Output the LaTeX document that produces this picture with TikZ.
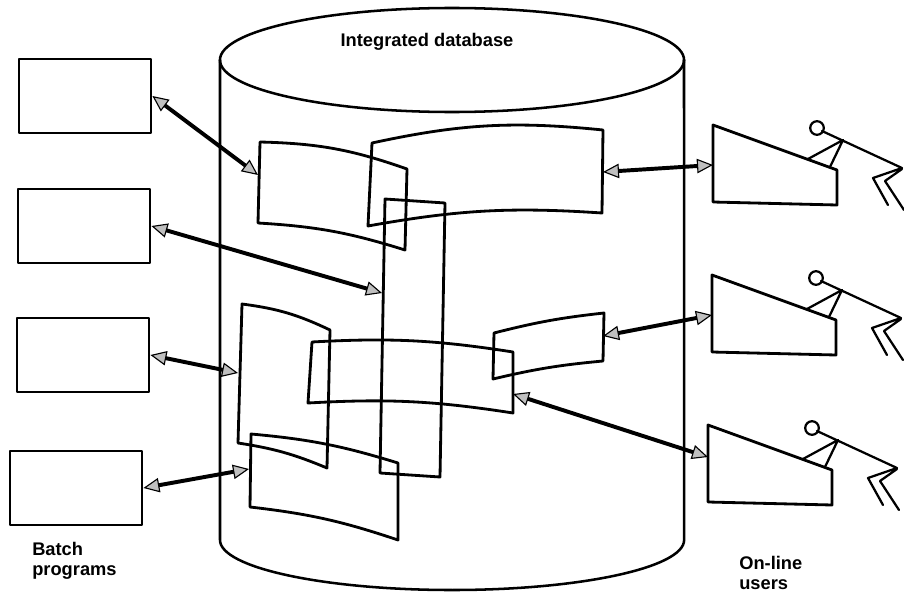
\documentclass[tikz,border=0pt]{standalone}
\usepackage{fontspec}
\setmainfont{Liberation Sans}
\usetikzlibrary{arrows.meta}
\tikzset{
  every picture/.style={line join=round, line cap=round},
  prog/.style={draw, line width=2pt, minimum width=3.3cm, minimum height=1.85cm, inner sep=0pt},
  panel/.style={line width=2pt},
  db/.style={line width=1.8pt},
  link/.style={line width=2.8pt, >={Triangle[length=0.4cm,width=0.36cm,fill=gray!50,line width=0.8pt]}, <->},
  lbl/.style={font=\bfseries\fontsize{13}{14}\selectfont, align=left, inner sep=0pt},
  terminal/.pic={
    \draw[line width=2pt] (0,0) -- (124,45) -- (124,80) -- (0,77) -- cycle;
    \draw[line width=1.6pt] (104,3) circle[radius=0.17cm];
    \draw[line width=1.6pt] (109,6) -- (189,43) -- (160,53) -- (175,80)
      (189,44) -- (172,56) -- (191,85)
      (95,34) -- (130,15) -- (117,42);
    \coordinate (-port) at (0,40);
  },
}

\begin{document}
\begin{tikzpicture}[x=0.025cm, y=-0.025cm]
\useasboundingbox (0,0) rectangle (904,598);

% the database drum
\draw[db] (452,60) ellipse[x radius=5.8cm, y radius=1.3cm];
\draw[db] (220,60) -- (220,540) arc[start angle=180, end angle=360, x radius=5.8cm, y radius=1.25cm] -- (684,60);
\node[lbl] (title) at (427,42) {Integrated database};

% records inside the drum
\draw[panel] (260,142) to[bend left=9] (407,169) -- (405,250) to[bend right=7] (258,223) -- cycle;
\draw[panel] (372,143) to[bend left=9] (603,130) -- (602,213) to[bend right=7] (368,226) -- cycle;
\draw[panel] (385,199) -- (445,203) -- (440,477) -- (380,473) -- cycle;
\draw[panel] (242,304) to[bend left=9] (330,330) -- (327,468) to[bend right=7] (238,443) -- cycle;
\draw[panel] (312,342) to[bend left=6] (513,352) -- (513,413) to[bend right=6] (308,403) -- cycle;
\draw[panel] (494,333) to[bend left=4] (604,313) -- (603,361) to[bend right=4] (493,379) -- cycle;
\draw[panel] (251,434) to[bend left=6] (398,463) -- (398,540) to[bend right=6] (250,507) -- cycle;

\coordinate (pA) at (258,175);
\coordinate (pB) at (603,172);
\coordinate (pC) at (382,293);
\coordinate (pD) at (238,373);
\coordinate (pE) at (513,394);
\coordinate (pF) at (603,336);
\coordinate (pG) at (249,469);

% batch programs
\node[prog] (b1) at (85,96) {};
\node[prog] (b2) at (84,226) {};
\node[prog] (b3) at (83,355) {};
\node[prog] (b4) at (76,488) {};
\node[lbl, anchor=north west] (batch) at (32,542) {Batch\\programs};

% on-line users
\pic (t1) at (713,125) {terminal};
\pic (t2) at (712,275) {terminal};
\pic (t3) at (708,425) {terminal};
\node[lbl, anchor=north west] (users) at (739,556) {On-line\\users};

\draw[link] (b1.east) -- (pA);
\draw[link] (b2.east) -- (pC);
\draw[link] (b3.east) -- (pD);
\draw[link] (b4.east) -- (pG);
\draw[link] (pB) -- (t1-port);
\draw[link] (pF) -- (t2-port);
\draw[link] (pE) -- ([yshift=0.2cm]t3-port);
\end{tikzpicture}
\end{document}
